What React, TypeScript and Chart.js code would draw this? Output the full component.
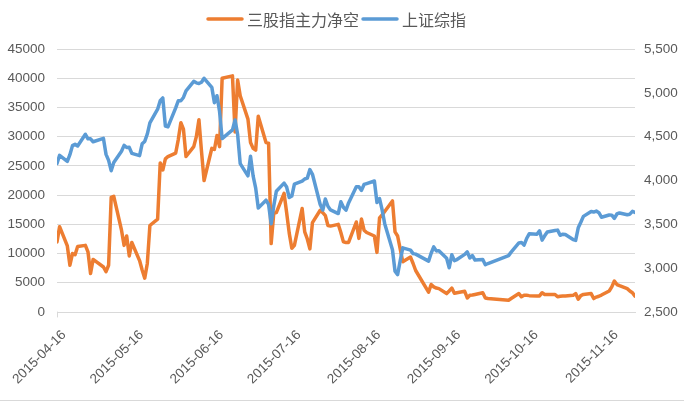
import React, { useEffect, useRef } from 'react';
import { Chart, registerables } from 'chart.js';

Chart.register(...registerables);

const seriesNames = ['三股指主力净空', '上证综指'];
const seriesColors = ['#ED7D31', '#5B9BD5'];

const tickLabels = [
  '2015-04-16', '2015-05-16', '2015-06-16', '2015-07-16',
  '2015-08-16', '2015-09-16', '2015-10-16', '2015-11-16',
];

const dates = [
  '2015-04-16', '2015-04-17', '2015-04-20', '2015-04-21', '2015-04-22', '2015-04-23', '2015-04-24',
  '2015-04-27', '2015-04-28', '2015-04-29', '2015-04-30',
  '2015-05-04', '2015-05-05', '2015-05-06', '2015-05-07', '2015-05-08',
  '2015-05-11', '2015-05-12', '2015-05-13', '2015-05-14', '2015-05-15',
  '2015-05-18', '2015-05-19', '2015-05-20', '2015-05-21', '2015-05-22',
  '2015-05-25', '2015-05-26', '2015-05-27', '2015-05-28', '2015-05-29',
  '2015-06-01', '2015-06-02', '2015-06-03', '2015-06-04', '2015-06-05',
  '2015-06-08', '2015-06-09', '2015-06-10', '2015-06-11', '2015-06-12',
  '2015-06-15', '2015-06-16', '2015-06-17', '2015-06-18', '2015-06-19',
  '2015-06-23', '2015-06-24', '2015-06-25', '2015-06-26',
  '2015-06-29', '2015-06-30', '2015-07-01', '2015-07-02', '2015-07-03',
  '2015-07-06', '2015-07-07', '2015-07-08', '2015-07-09', '2015-07-10',
  '2015-07-13', '2015-07-14', '2015-07-15', '2015-07-16', '2015-07-17',
  '2015-07-20', '2015-07-21', '2015-07-22', '2015-07-23', '2015-07-24',
  '2015-07-27', '2015-07-28', '2015-07-29', '2015-07-30', '2015-07-31',
  '2015-08-03', '2015-08-04', '2015-08-05', '2015-08-06', '2015-08-07',
  '2015-08-10', '2015-08-11', '2015-08-12', '2015-08-13', '2015-08-14',
  '2015-08-17', '2015-08-18', '2015-08-19', '2015-08-20', '2015-08-21',
  '2015-08-24', '2015-08-25', '2015-08-26', '2015-08-27', '2015-08-28',
  '2015-08-31', '2015-09-01', '2015-09-02',
  '2015-09-07', '2015-09-08', '2015-09-09', '2015-09-10', '2015-09-11',
  '2015-09-14', '2015-09-15', '2015-09-16', '2015-09-17', '2015-09-18',
  '2015-09-21', '2015-09-22', '2015-09-23', '2015-09-24', '2015-09-25',
  '2015-09-28', '2015-09-29', '2015-09-30',
  '2015-10-08', '2015-10-09',
  '2015-10-12', '2015-10-13', '2015-10-14', '2015-10-15', '2015-10-16',
  '2015-10-19', '2015-10-20', '2015-10-21', '2015-10-22', '2015-10-23',
  '2015-10-26', '2015-10-27', '2015-10-28', '2015-10-29', '2015-10-30',
  '2015-11-02', '2015-11-03', '2015-11-04', '2015-11-05', '2015-11-06',
  '2015-11-09', '2015-11-10', '2015-11-11', '2015-11-12', '2015-11-13',
  '2015-11-16', '2015-11-17', '2015-11-18', '2015-11-19', '2015-11-20',
  '2015-11-23', '2015-11-24', '2015-11-25', '2015-11-26',
];

const netShort = [
  12000, 14600, 11300, 8000, 10000, 9800, 11200,
  11400, 10300, 6600, 9000,
  7700, 6900, 8000, 19600, 19800,
  14000, 11400, 13000, 9600, 11900,
  8800, 7200, 5800, 8300, 14800,
  15900, 25500, 24300, 26200, 26600,
  27200, 29500, 32400, 31300, 26600,
  28300, 30000, 32900, 27500, 22500,
  28000, 27800, 30200, 28300, 40000,
  40400, 30800, 39700, 37000,
  33000, 29000, 28000, 27700, 33500,
  29000, 28900, 11700, 16900, 17000,
  20300, 17000, 13500, 10900, 11400,
  17700, 13700, 12500, 10800, 15300,
  17400, 17000, 16500, 14800, 14700,
  15000, 13600, 12000, 11900, 11900,
  15400, 12600, 15900, 14000, 13600,
  13000, 10200, 16100, 16600, 17200,
  19000, 13700, 13000, 10800, 8600,
  9400, 8300, 7100,
  3400, 4700, 4300, 4100, 4000,
  3150, 3600, 4100, 3200, 3300,
  3550, 2400, 2850, 2900, 3000,
  3300, 2400, 2300,
  2000, 2300,
  3150, 2600, 2850, 2850, 2800,
  2750, 2750, 3300, 3000, 3000,
  3000, 2600, 2700, 2750, 2750,
  2850, 3150, 2200, 2800, 3000,
  3150, 2300, 2550, 2700, 2900,
  3600, 4300, 5300, 4700, 4500,
  4000, 3600, 3300, 2700,
];

const shIndex = [
  4195, 4287, 4217, 4294, 4398, 4414, 4394,
  4527, 4476, 4476, 4442,
  4480, 4298, 4229, 4112, 4206,
  4334, 4401, 4376, 4378, 4309,
  4284, 4418, 4446, 4530, 4658,
  4814, 4911, 4942, 4620, 4612,
  4829, 4910, 4910, 4947, 5023,
  5131, 5114, 5106, 5121, 5166,
  5062, 4887, 4967, 4786, 4478,
  4577, 4691, 4527, 4193,
  4053, 4277, 4053, 3913, 3687,
  3775, 3727, 3507, 3710, 3878,
  3970, 3925, 3806, 3823, 3958,
  3992, 4017, 4027, 4124, 4071,
  3726, 3663, 3789, 3706, 3664,
  3623, 3757, 3695, 3661, 3744,
  3928, 3928, 3887, 3955, 3965,
  3994, 3749, 3794, 3665, 3508,
  3210, 2965, 2927, 3084, 3232,
  3206, 3166, 3160,
  3080, 3170, 3243, 3197, 3200,
  3114, 3005, 3153, 3086, 3098,
  3157, 3186, 3116, 3143, 3093,
  3100, 3039, 3053,
  3143, 3183,
  3288, 3294, 3263, 3338, 3392,
  3387, 3426, 3320, 3369, 3413,
  3430, 3434, 3375, 3387, 3383,
  3326, 3317, 3460, 3523, 3591,
  3647, 3640, 3651, 3633, 3581,
  3607, 3605, 3568, 3618, 3630,
  3610, 3616, 3648, 3635,
];

const leftTicks = { min: 0, max: 45000, step: 5000 };
const rightTicks = { min: 2500, max: 5500, step: 500 };

const DAY_MS = 86400000;
const toUTC = (s: string) => {
  const [y, m, d] = s.split('-').map(Number);
  return Date.UTC(y, m - 1, d);
};
const base = toUTC(dates[0]);
const dayOf = (s: string) => Math.round((toUTC(s) - base) / DAY_MS);

const TEXT_COLOR = '#595959';
const GRID_COLOR = '#D9D9D9';
const TICK_FONT = { family: '"Liberation Sans", Arial, sans-serif', size: 13.5 };

const legendPlugin = {
  id: 'excelLegend',
  afterDraw(chart: any) {
    const { ctx, width } = chart;
    ctx.save();
    ctx.font = '16px "Noto Sans CJK SC", "Noto Sans", sans-serif';
    ctx.textBaseline = 'middle';
    ctx.textAlign = 'left';
    const sw = 34;
    const gapText = 5;
    const gapItem = 4;
    const widths = seriesNames.map((n) => ctx.measureText(n).width);
    const total = widths.reduce((a, w) => a + sw + gapText + w, 0) + gapItem * (seriesNames.length - 1);
    let x = width / 2 - 5 - total / 2;
    const y = 19;
    seriesNames.forEach((name, i) => {
      ctx.strokeStyle = seriesColors[i];
      ctx.lineWidth = 3.5;
      ctx.lineCap = 'round';
      ctx.beginPath();
      ctx.moveTo(x, y);
      ctx.lineTo(x + sw, y);
      ctx.stroke();
      x += sw + gapText;
      ctx.fillStyle = TEXT_COLOR;
      ctx.fillText(name, x, y + 1);
      x += widths[i] + gapItem;
    });
    // chart frame bottom line
    ctx.strokeStyle = GRID_COLOR;
    ctx.lineWidth = 1;
    ctx.beginPath();
    ctx.moveTo(0, 400.5);
    ctx.lineTo(width, 400.5);
    ctx.stroke();
    // small tick mark at the start of the category axis
    const area = chart.chartArea;
    ctx.beginPath();
    ctx.moveTo(area.left + 0.5, area.bottom);
    ctx.lineTo(area.left + 0.5, area.bottom + 5);
    ctx.stroke();
    ctx.restore();
  },
};

export default function App() {
  const ref = useRef<HTMLCanvasElement | null>(null);

  useEffect(() => {
    if (!ref.current) return;
    const tickDays = tickLabels.map(dayOf);
    const chart = new Chart(ref.current, {
      type: 'line',
      data: {
        datasets: [
          {
            label: seriesNames[0],
            data: dates.map((d, i) => ({ x: dayOf(d), y: netShort[i] })),
            borderColor: seriesColors[0],
            backgroundColor: seriesColors[0],
            borderWidth: 3.5,
            pointRadius: 0,
            tension: 0,
            borderJoinStyle: 'round',
            borderCapStyle: 'round',
            yAxisID: 'y',
            order: 1,
          },
          {
            label: seriesNames[1],
            data: dates.map((d, i) => ({ x: dayOf(d), y: shIndex[i] })),
            borderColor: seriesColors[1],
            backgroundColor: seriesColors[1],
            borderWidth: 3.5,
            pointRadius: 0,
            tension: 0,
            borderJoinStyle: 'round',
            borderCapStyle: 'round',
            yAxisID: 'y1',
            order: 0,
          },
        ],
      },
      options: {
        responsive: false,
        animation: false,
        events: [],
        layout: { padding: { top: 49, left: 0, right: 0, bottom: 0 } },
        plugins: {
          legend: { display: false },
          tooltip: { enabled: false },
        },
        scales: {
          x: {
            type: 'linear',
            min: 0,
            max: dayOf(dates[dates.length - 1]),
            grid: { display: false, drawTicks: false },
            border: { display: true, color: GRID_COLOR, width: 1 },
            afterBuildTicks: (scale: any) => {
              scale.ticks = tickDays.map((v) => ({ value: v }));
            },
            afterFit: (scale: any) => {
              scale.height = 98;
              scale.paddingLeft = 0;
              scale.paddingRight = 0;
            },
            ticks: {
              autoSkip: false,
              minRotation: 45,
              maxRotation: 45,
              padding: 15,
              labelOffset: 7,
              color: TEXT_COLOR,
              font: TICK_FONT,
              callback: (value: any) => {
                const idx = tickDays.indexOf(Number(value));
                return idx >= 0 ? tickLabels[idx] : '';
              },
            },
          },
          y: {
            position: 'left',
            min: leftTicks.min,
            max: leftTicks.max,
            grid: { color: GRID_COLOR, lineWidth: 1, drawTicks: false },
            border: { display: false },
            afterFit: (scale: any) => {
              scale.width = 57;
            },
            ticks: {
              stepSize: leftTicks.step,
              padding: 12,
              color: TEXT_COLOR,
              font: TICK_FONT,
              callback: (v: any) => String(v),
            },
          },
          y1: {
            position: 'right',
            min: rightTicks.min,
            max: rightTicks.max,
            grid: { display: false, drawTicks: false },
            border: { display: false },
            afterFit: (scale: any) => {
              scale.width = 49;
            },
            ticks: {
              stepSize: rightTicks.step,
              padding: 9,
              color: TEXT_COLOR,
              font: TICK_FONT,
              callback: (v: any) => Number(v).toLocaleString('en-US'),
            },
          },
        },
      },
      plugins: [legendPlugin],
    } as any);
    return () => chart.destroy();
  }, []);

  return (
    <div style={{ position: 'absolute', left: 0, top: 0, width: 684, height: 410, background: '#fff' }}>
      <canvas ref={ref} width={684} height={410} style={{ display: 'block', width: 684, height: 410 }} />
    </div>
  );
}
